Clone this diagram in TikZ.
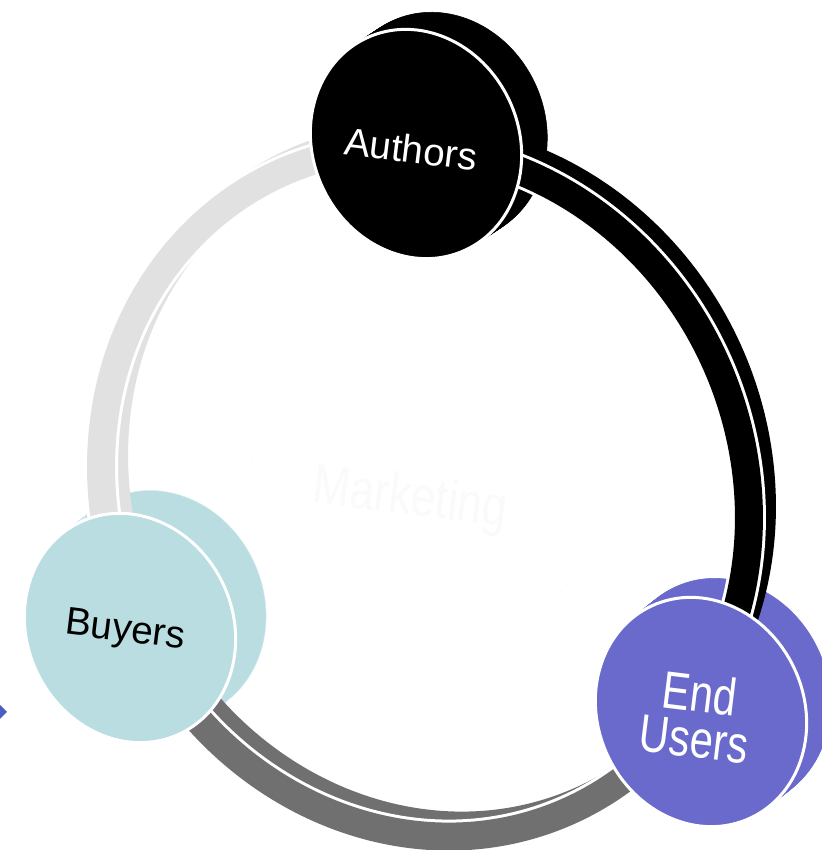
\documentclass[tikz,border=0pt]{standalone}
\usepackage{fontspec}
\setmainfont{Liberation Sans}
\newfontfamily\narrowsans[FakeStretch=0.79]{Liberation Sans}
\definecolor{enduser}{HTML}{6A6ACC}
\definecolor{buyer}{HTML}{B9DDE1}
\definecolor{buyerside}{HTML}{D2EBEE}
\definecolor{ringlight}{HTML}{E1E1E1}
\definecolor{ringdark}{HTML}{707070}
\definecolor{tipblue}{HTML}{4B5CC4}

\begin{document}
\begin{tikzpicture}[x=0.02cm,y=0.02cm,
    face/.style={draw=white,line width=0.06cm},
    band/.style={line width=0.56cm},
    bandedge/.style={white,line width=0.68cm},
    disctext/.style={font=\fontsize{22}{27}\selectfont,align=center,rotate=-7}]
\useasboundingbox (0,0) rectangle (822,850);

% faint hub in the middle
\draw[black!4,dotted] (425,367) circle[radius=175];
\node[rotate=-7,font=\narrowsans\fontsize{32}{36}\selectfont,black!2] (marketing) at (410,350) {Marketing};

% drum sides, stacked copies of each disc
\foreach \cx/\cy/\dx/\dy/\col/\edge in {416/706/27/18/black/black,701/138/25/20/enduser/enduser,130/222/32/24/buyer/buyerside}
  \foreach \s in {0,0.05,...,1}
    \filldraw[fill=\col,draw=\edge,line width=0.3pt,shift={(\cx+\s*\dx,\cy+\s*\dy)},rotate=25]
      (0,0) ellipse[x radius=103,y radius=117];

% ring: side strip first
\begin{scope}[shift={(438,369)},rotate=25]
  \foreach \a/\b/\col in {64/180/ringlight,180/298.6/ringdark,298.6/424.4/black}
    \draw[band,\col] (\a:318 and 350) arc[start angle=\a,end angle=\b,x radius=318,y radius=350];
\end{scope}
% ring: top face
\begin{scope}[shift={(425,358)},rotate=25]
  \foreach \a/\b/\col in {64/180/ringlight,180/298.6/ringdark,298.6/424.4/black}{
    \draw[bandedge] (\a:318 and 350) arc[start angle=\a,end angle=\b,x radius=318,y radius=350];
    \draw[band,\col] (\a:318 and 350) arc[start angle=\a,end angle=\b,x radius=318,y radius=350];
  }
\end{scope}

% disc faces
\foreach \cx/\cy/\col in {416/706/black,701/138/enduser,130/222/buyer}
  \filldraw[face,fill=\col,shift={(\cx,\cy)},rotate=25] (0,0) ellipse[x radius=103,y radius=117];

\node[disctext,white] (authors) at (411,701) {Authors};
\node[disctext,white,font=\narrowsans\fontsize{30}{26}\selectfont] (users) at (697,134) {End\\Users};
\node[disctext] (buyers) at (125,218) {Buyers};

% stray tip on the left edge
\fill[tipblue] (-7,138) -- (0,145) -- (7,138) -- (0,131) -- cycle;
\end{tikzpicture}
\end{document}
